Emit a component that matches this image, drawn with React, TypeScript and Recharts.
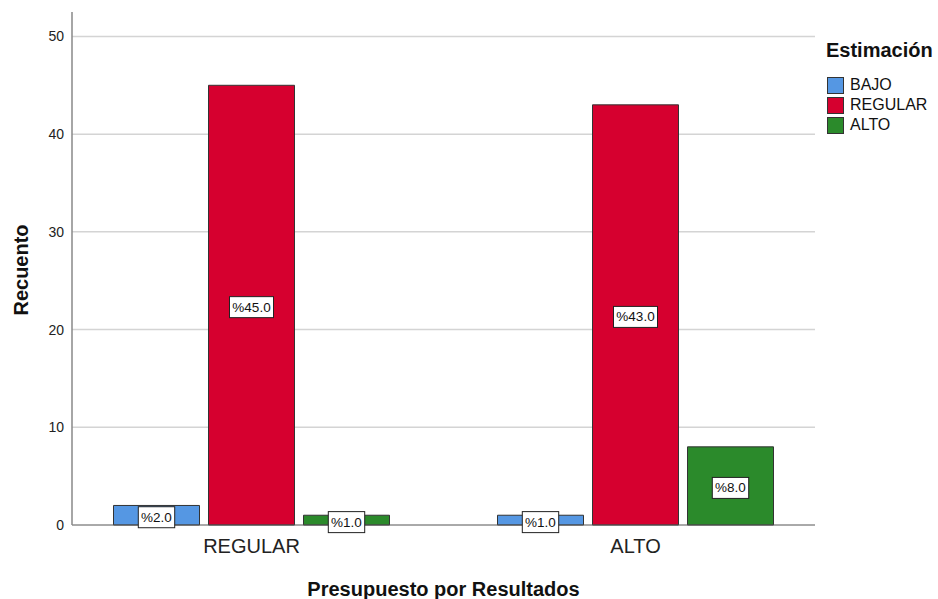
import { BarChart, Bar, XAxis, YAxis, CartesianGrid, Legend, LabelList } from "recharts";

const categories = ["REGULAR", "ALTO"];
const bajo = [2, 1];
const regular = [45, 43];
const alto = [1, 8];
const yTicks = [0, 10, 20, 30, 40, 50];
const yMax = 52.5;

const series = [
  { key: "BAJO", color: "#5597e3" },
  { key: "REGULAR", color: "#d6002f" },
  { key: "ALTO", color: "#2b8a2b" },
];

const data = categories.map((c, i) => ({
  name: c,
  BAJO: bajo[i],
  REGULAR: regular[i],
  ALTO: alto[i],
}));

const font = "Arial, 'Liberation Sans', sans-serif";

const PctLabel = (props: any) => {
  const { x, y, width, height, value } = props;
  const text = "%" + Number(value).toFixed(1);
  const cx = x + width / 2;
  const cy = y + height / 2 + 2;
  const w = text.length * 7.6 + 6;
  const h = 21;
  return (
    <g>
      <rect x={cx - w / 2} y={cy - h / 2} width={w} height={h} fill="#fff" stroke="#222" strokeWidth={1} />
      <text x={cx} y={cy} textAnchor="middle" dominantBaseline="central" fontSize={13.5} fontFamily={font} fill="#111">
        {text}
      </text>
    </g>
  );
};

const CustomLegend = () => {
  return (
    <div style={{ fontFamily: font, color: "#111" }}>
      <div style={{ fontWeight: "bold", fontSize: 20, lineHeight: "24px", marginBottom: 13 }}>Estimación</div>
      {series.map((s) => (
        <div key={s.key} style={{ display: "flex", alignItems: "center", height: 20 }}>
          <div
            style={{
              width: 15,
              height: 15,
              background: s.color,
              border: "1px solid #333",
              marginLeft: 1,
              marginRight: 6,
            }}
          ></div>
          <span style={{ fontSize: 16 }}>{s.key}</span>
        </div>
      ))}
    </div>
  );
};

const YTitle = () => {
  return (
    <text
      x={21}
      y={270}
      transform="rotate(-90, 21, 270)"
      textAnchor="middle"
      dominantBaseline="central"
      fontSize={20}
      fontWeight="bold"
      fontFamily={font}
      fill="#111"
    >
      Recuento
    </text>
  );
};

// grid only at the tick values, no line on the top edge
const gridPoints = (args: any) => {
  const off = args.offset;
  return yTicks.filter((t) => t > 0).map((t) => off.top + off.height * (1 - t / yMax));
};

const GridLine = (p: any) => {
  if (p.y1 < 20) return <g key={p.key} />;
  return <line key={p.key} x1={p.x1} y1={p.y1} x2={p.x2} y2={p.y2} stroke="#d4d4d4" strokeWidth={1.5} fill="none" />;
};

export default function App() {
  return (
    <div style={{ width: 938, height: 599, background: "#fff" }}>
      <style>{"body{margin:0;}"}</style>
      <BarChart
        width={938}
        height={599}
        data={data}
        margin={{ top: 12, right: 123, bottom: 0, left: 0 }}
        barSize={86}
        barGap={9}
      >
        <CartesianGrid
          horizontal={GridLine}
          vertical={false}
          horizontalCoordinatesGenerator={gridPoints}
          stroke="#d4d4d4"
          strokeWidth={1.5}
        />
        <XAxis
          dataKey="name"
          height={74}
          padding={{ left: -12.5, right: -12.5 }}
          tickLine={false}
          tickSize={0}
          tickMargin={14}
          axisLine={{ stroke: "#555" }}
          tick={{ fontSize: 20, fill: "#222", fontFamily: font }}
          label={{
            value: "Presupuesto por Resultados",
            position: "insideBottom",
            offset: 3,
            fontSize: 20,
            fontWeight: "bold",
            fill: "#111",
            fontFamily: font,
          }}
        />
        <YAxis
          width={72}
          domain={[0, yMax]}
          ticks={yTicks}
          tickLine={false}
          tickSize={0}
          tickMargin={8}
          axisLine={{ stroke: "#888", strokeWidth: 1.5 }}
          tick={{ fontSize: 14, fill: "#222", fontFamily: font }}
          label={<YTitle />}
        />
        <Legend
          layout="vertical"
          align="center"
          verticalAlign="middle"
          content={<CustomLegend />}
          wrapperStyle={{ position: "absolute", left: 826, top: 38, width: 112, height: "auto" }}
        />
        {series.map((s) => (
          <Bar key={s.key} dataKey={s.key} fill={s.color} stroke="#333" strokeWidth={1} isAnimationActive={false}>
            <LabelList dataKey={s.key} content={<PctLabel />} />
          </Bar>
        ))}
      </BarChart>
    </div>
  );
}
